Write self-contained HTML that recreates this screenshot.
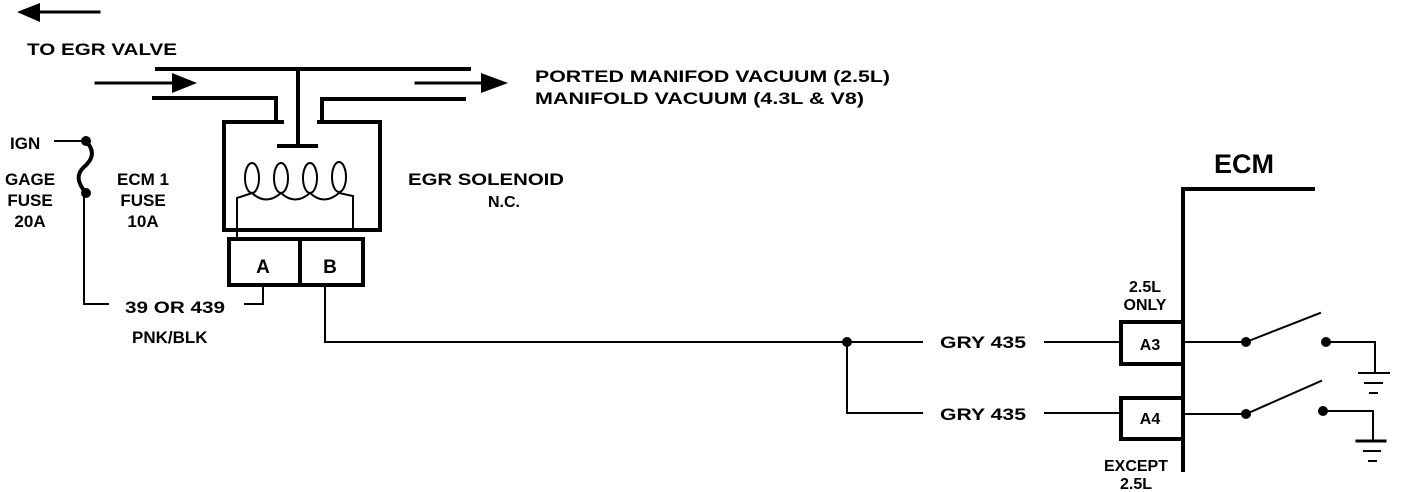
<!DOCTYPE html>
<html><head><meta charset="utf-8"><style>
html,body{margin:0;padding:0;background:#fff;}
svg{display:block;}
text{font-family:"Liberation Sans",sans-serif;font-weight:bold;fill:#000;}
</style></head><body>
<svg width="1408" height="492" viewBox="0 0 1408 492" xmlns="http://www.w3.org/2000/svg">
<g stroke="#000" fill="none" stroke-linecap="square">
<line x1="36" y1="12" x2="99" y2="12" stroke-width="3"/>
<line x1="157" y1="69" x2="469" y2="69" stroke-width="4"/>
<line x1="96" y1="83" x2="180" y2="83" stroke-width="3"/>
<line x1="416" y1="83" x2="485" y2="83" stroke-width="3"/>
<polyline points="154,98 276,98 276,121" stroke-width="4"/>
<polyline points="464,99 322,99 322,121" stroke-width="4"/>
<line x1="298" y1="69" x2="298" y2="146" stroke-width="4"/>
<line x1="279" y1="146" x2="316" y2="146" stroke-width="4"/>
<polyline points="282,122 224,122 224,230 380,230 380,122 319,122" stroke-width="4"/>
<g stroke-width="2">
<ellipse cx="252" cy="178" rx="7" ry="15"/>
<ellipse cx="281" cy="178" rx="7" ry="15"/>
<ellipse cx="310" cy="178" rx="7" ry="15"/>
<ellipse cx="339" cy="177" rx="7" ry="15"/>
<path d="M252,193 Q266,206 281,193 Q295,206 310,193 Q324,206 339,193"/>
<polyline points="252,193 237,198 237,236"/>
<polyline points="339,193 353,196 353,230"/>
</g>
<rect x="229" y="239" width="134" height="46" stroke-width="4"/>
<line x1="300" y1="239" x2="300" y2="285" stroke-width="4"/>
<polyline points="263,286 263,304 245,304" stroke-width="2"/>
<polyline points="84,195 84,304 108,304" stroke-width="2"/>
<line x1="55" y1="141" x2="86" y2="141" stroke-width="2"/>
<path d="M86,141 C96,152 92,160 84,167 C74,176 80,186 86,193" stroke-width="4"/>
<polyline points="325,286 325,342 922,342" stroke-width="2"/>
<polyline points="847,342 847,413 922,413" stroke-width="2"/>
<line x1="1045" y1="342" x2="1120" y2="342" stroke-width="2"/>
<line x1="1045" y1="413" x2="1120" y2="413" stroke-width="2"/>
<polyline points="1183,470 1183,189 1313,189" stroke-width="4"/>
<polyline points="1183,322 1121,322 1121,364 1183,364" stroke-width="4"/>
<polyline points="1183,398 1121,398 1121,439 1183,439" stroke-width="4"/>
<line x1="1184" y1="342" x2="1245" y2="342" stroke-width="2"/>
<line x1="1184" y1="414" x2="1245" y2="414" stroke-width="2"/>
<line x1="1246" y1="342" x2="1320" y2="313" stroke-width="2"/>
<line x1="1246" y1="414" x2="1321" y2="381" stroke-width="2"/>
<polyline points="1326,342 1375,342 1375,372" stroke-width="2"/>
<polyline points="1323,411 1373,411 1373,441" stroke-width="2"/>
<line x1="1359" y1="373" x2="1389" y2="373" stroke-width="2"/>
<line x1="1365" y1="383" x2="1382" y2="383" stroke-width="2"/>
<line x1="1370" y1="393" x2="1377" y2="393" stroke-width="2"/>
<line x1="1357" y1="441" x2="1385" y2="441" stroke-width="3"/>
<line x1="1364" y1="451" x2="1380" y2="451" stroke-width="2"/>
<line x1="1369" y1="461" x2="1376" y2="461" stroke-width="2"/>
</g>
<g fill="#000">
<polygon points="17,12 40,3 40,22"/>
<polygon points="172,73 197,83 172,93"/>
<polygon points="481,73 508,83 481,93"/>
<circle cx="86" cy="141" r="5"/>
<circle cx="86" cy="193" r="5"/>
<circle cx="847" cy="342" r="5"/>
<circle cx="1246" cy="342" r="5"/>
<circle cx="1326" cy="342" r="5"/>
<circle cx="1246" cy="414" r="5"/>
<circle cx="1323" cy="411" r="5"/>
</g>
<g lengthAdjust="spacingAndGlyphs">
<text x="27" y="55" font-size="17" textLength="150" lengthAdjust="spacingAndGlyphs">TO EGR  VALVE</text>
<text x="535" y="82" font-size="17" textLength="355" lengthAdjust="spacingAndGlyphs">PORTED MANIFOD VACUUM (2.5L)</text>
<text x="535" y="104" font-size="17" textLength="329" lengthAdjust="spacingAndGlyphs">MANIFOLD VACUUM (4.3L &amp; V8)</text>
<text x="408" y="185" font-size="17" textLength="156" lengthAdjust="spacingAndGlyphs">EGR SOLENOID</text>
<text x="125" y="313" font-size="17" textLength="100" lengthAdjust="spacingAndGlyphs">39 OR 439</text>
<text x="940" y="348" font-size="17" textLength="86" lengthAdjust="spacingAndGlyphs">GRY 435</text>
<text x="940" y="420" font-size="17" textLength="86" lengthAdjust="spacingAndGlyphs">GRY 435</text>
</g>
<text x="488" y="207" font-size="16">N.C.</text>
<text x="10" y="149" font-size="17">IGN</text>
<g text-anchor="middle" font-size="17">
<text x="30" y="185">GAGE</text>
<text x="30" y="206">FUSE</text>
<text x="30" y="227">20A</text>
<text x="143" y="185">ECM 1</text>
<text x="143" y="206">FUSE</text>
<text x="143" y="227">10A</text>
<text x="263" y="273" font-size="19">A</text>
<text x="330" y="273" font-size="19">B</text>
<text x="1150" y="350" font-size="16">A3</text>
<text x="1150" y="424" font-size="16">A4</text>
<text x="1145" y="292" font-size="16">2.5L</text>
<text x="1145" y="310" font-size="16">ONLY</text>
<text x="1136" y="471" font-size="16">EXCEPT</text>
<text x="1136" y="489" font-size="16">2.5L</text>
<text x="1244" y="173" font-size="27" font-weight="normal">ECM</text>
</g>
<text x="132" y="343" font-size="17">PNK/BLK</text>
</svg>
</body></html>
